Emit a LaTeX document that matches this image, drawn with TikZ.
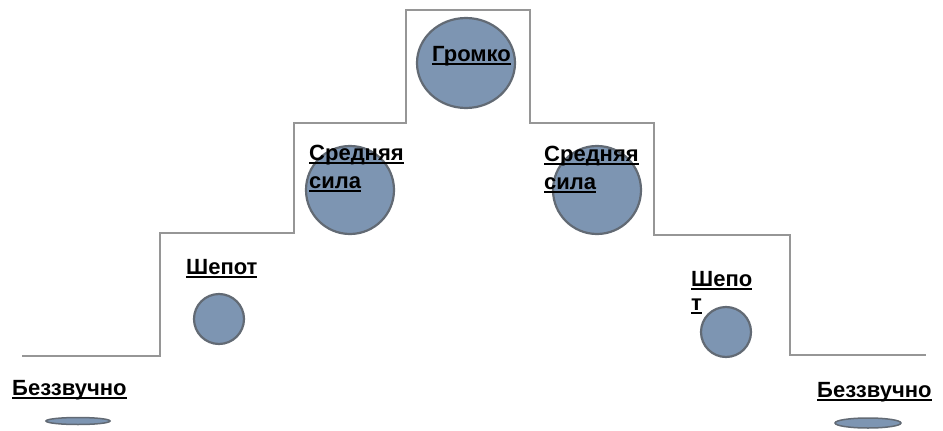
\documentclass[tikz,border=0pt]{standalone}
\usepackage{fontspec}
\setmainfont{Liberation Sans}
\usetikzlibrary{shapes.geometric}
\newcommand\ulx[1]{\leavevmode\setbox0\hbox{#1}\rlap{\rule[-3.5pt]{\wd0}{1.7pt}}\box0}
\definecolor{ballfill}{RGB}{125,149,178}
\definecolor{balledge}{RGB}{98,106,116}
\definecolor{stairline}{RGB}{150,150,150}
\tikzset{
  ball/.style={draw=balledge, line width=2.2pt, fill=ballfill},
  lbl/.style={anchor=north west, inner sep=0pt, align=left, font=\fontsize{22}{28}\selectfont\bfseries, text=black},
  stairs/.style={draw=stairline, line width=1.1pt}
}
\begin{document}
\begin{tikzpicture}[x=1pt,y=-1pt]
\useasboundingbox (0,0) rectangle (943,431);
% staircase outline
\draw[stairs] (22,356) -- (160,356) -- (160,233) -- (294,233) -- (294,123) -- (406,123) -- (406,10) -- (530,10) -- (530,123) -- (654,123) -- (654,235) -- (790,235) -- (790,355) -- (926,355);
% balls
\node[ball, ellipse, minimum width=98pt, minimum height=90pt, inner sep=0pt] (loud) at (466,63) {};
\node[ball, circle, minimum size=88pt, inner sep=0pt] (midL) at (350,190) {};
\node[ball, circle, minimum size=88pt, inner sep=0pt] (midR) at (597,190) {};
\node[ball, circle, minimum size=50pt, inner sep=0pt] (whL) at (219,319) {};
\node[ball, circle, minimum size=50pt, inner sep=0pt] (whR) at (726,332) {};
\node[ball, ellipse, minimum width=64pt, minimum height=7pt, inner sep=0pt, line width=1.5pt] (silL) at (78,421) {};
\node[ball, ellipse, minimum width=66pt, minimum height=10pt, inner sep=0pt, line width=1.5pt] (silR) at (868,423) {};
% labels
\node[lbl] (tloud) at (432,46) {\ulx{Громко}};
\node[lbl] (tmidL) at (309,145) {\ulx{Средняя}\\\ulx{сила}};
\node[lbl] (tmidR) at (544,146) {\ulx{Средняя}\\\ulx{сила}};
\node[lbl] (twhL) at (186,259) {\ulx{Шепот}};
\node[lbl, font=\fontsize{22}{24}\selectfont\bfseries] (twhR) at (691,271) {\ulx{Шепо}\\\ulx{т}};
\node[lbl] (tsilL) at (12,380) {\ulx{Беззвучно}};
\node[lbl] (tsilR) at (817,382) {\ulx{Беззвучно}};
\end{tikzpicture}
\end{document}
